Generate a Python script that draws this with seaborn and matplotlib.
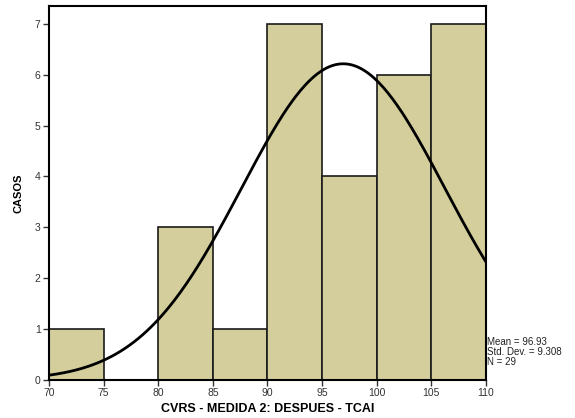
import numpy as np
import pandas as pd
import matplotlib
matplotlib.use("Agg")
import matplotlib.pyplot as plt
import seaborn as sns

bin_edges = [70, 75, 80, 85, 90, 95, 100, 105, 110]
bin_counts = [1, 0, 3, 1, 7, 4, 6, 7]
stat_mean = 96.93
stat_sd = 9.308
stat_n = 29
x_ticks = [70, 75, 80, 85, 90, 95, 100, 105, 110]
y_ticks = [0, 1, 2, 3, 4, 5, 6, 7]

sns.set_theme(style="white")
plt.rcParams['font.family'] = ['Liberation Sans', 'DejaVu Sans']

fig = plt.figure(figsize=(5.75, 4.18), dpi=100)
ax = fig.add_axes([0.0852, 0.0909, 0.7600, 0.8947])

mids = [(a + b) / 2 for a, b in zip(bin_edges[:-1], bin_edges[1:])]
df = pd.DataFrame({"x": mids, "w": bin_counts})
sns.histplot(data=df, x="x", weights="w", bins=bin_edges, ax=ax,
             color="#d3ce9b", alpha=1, edgecolor="#1a1a1a", linewidth=1.2)

width = bin_edges[1] - bin_edges[0]
xs = np.linspace(bin_edges[0], bin_edges[-1], 300)
ys = stat_n * width / (stat_sd * np.sqrt(2 * np.pi)) * np.exp(-0.5 * ((xs - stat_mean) / stat_sd) ** 2)
sns.lineplot(x=xs, y=ys, ax=ax, color="black", linewidth=2)

ax.set_xlim(bin_edges[0], bin_edges[-1])
ax.set_ylim(0, 7.35)
ax.set_xticks(x_ticks)
ax.set_yticks(y_ticks)
ax.tick_params(axis="both", labelsize=7.5, colors="#333333", length=4, width=1,
               direction="out", bottom=True, left=True, pad=2)
for s in ax.spines.values():
    s.set_color("black")
    s.set_linewidth(1.5)
ax.set_xlabel("CVRS - MEDIDA 2: DESPUES - TCAI", fontsize=9, fontweight="bold",
              labelpad=3, color="black")
ax.set_ylabel("CASOS", fontsize=8, fontweight="bold", labelpad=8, color="black")

fig.text(0.847, 0.122, f"Mean = {stat_mean:.2f}\nStd. Dev. = {stat_sd:.3f}\nN = {stat_n}",
         fontsize=7, va="bottom", ha="left", linespacing=1.0, color="#222222")

fig.savefig("out.png", dpi=100)
